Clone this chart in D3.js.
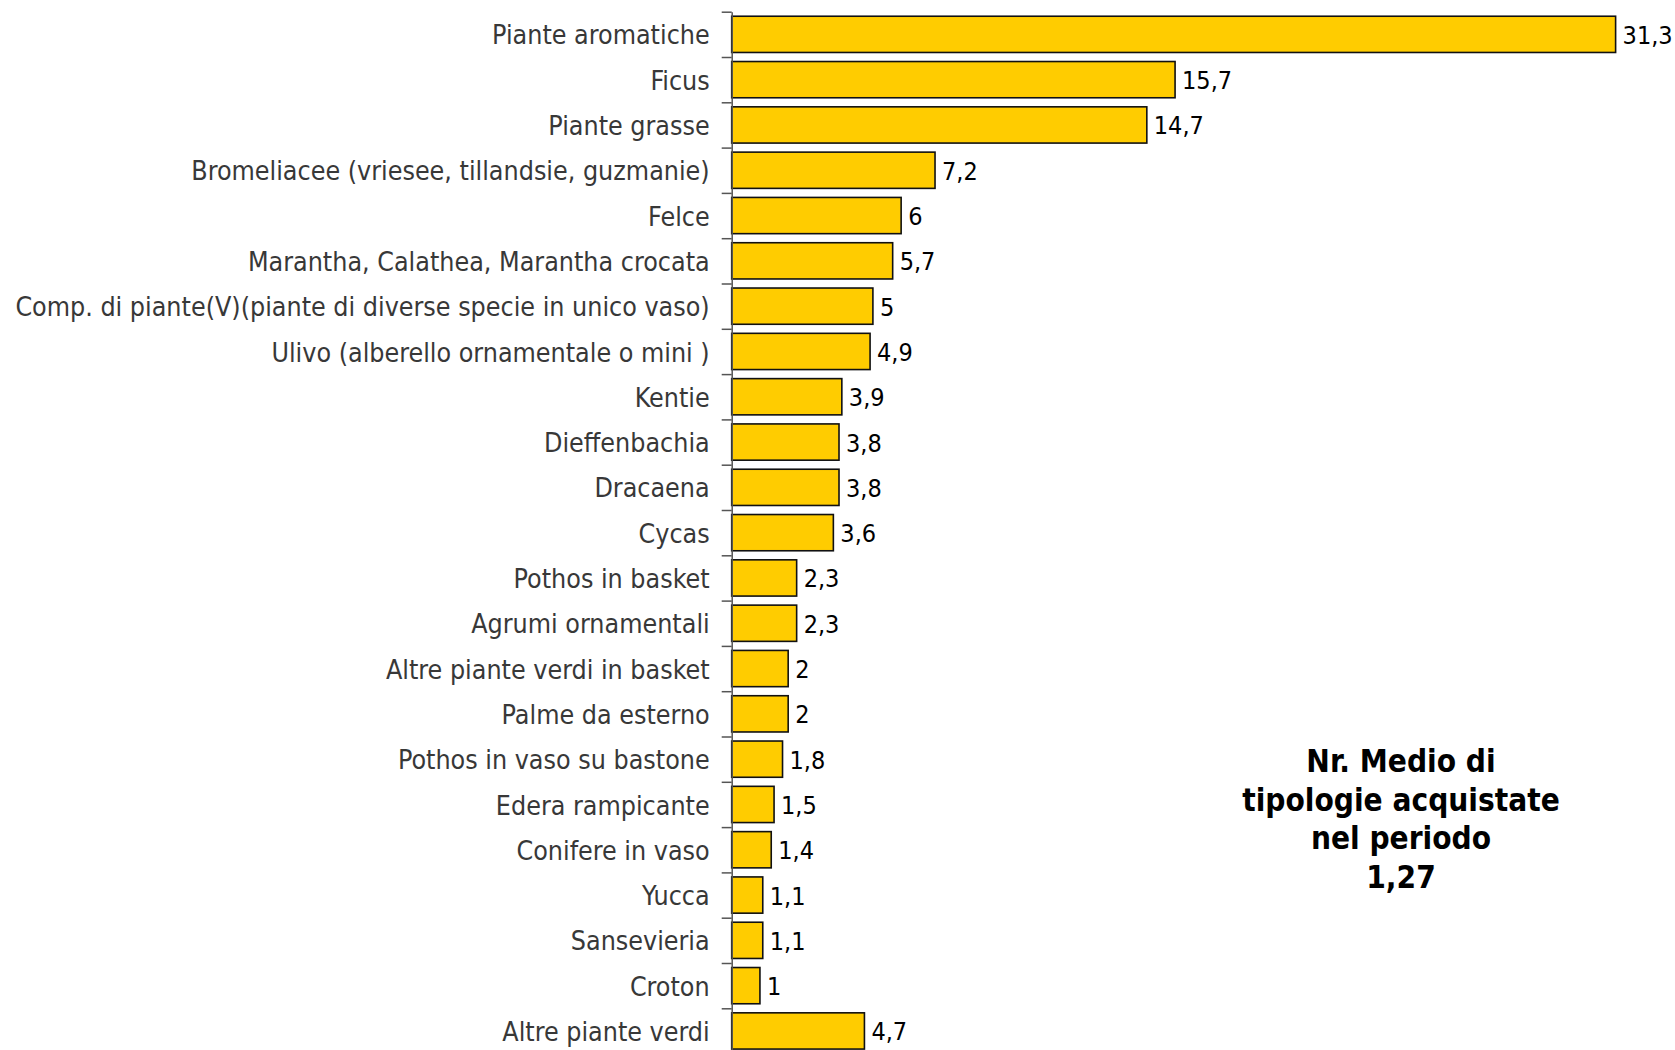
<!DOCTYPE html>
<html>
<head>
<meta charset="utf-8">
<script src="https://cdn.jsdelivr.net/npm/d3@7/dist/d3.min.js"></script>
<style>
  html, body { margin: 0; padding: 0; background: #fff; }
  svg { display: block; }
</style>
</head>
<body>
<svg id="chart" width="1675" height="1050"></svg>
<script>
const categories = [
  "Piante aromatiche",
  "Ficus",
  "Piante grasse",
  "Bromeliacee (vriesee, tillandsie, guzmanie)",
  "Felce",
  "Marantha, Calathea, Marantha crocata",
  "Comp. di piante(V)(piante di diverse specie in unico vaso)",
  "Ulivo (alberello ornamentale o mini )",
  "Kentie",
  "Dieffenbachia",
  "Dracaena",
  "Cycas",
  "Pothos in basket",
  "Agrumi ornamentali",
  "Altre piante verdi in basket",
  "Palme da esterno",
  "Pothos in vaso su bastone",
  "Edera rampicante",
  "Conifere in vaso",
  "Yucca",
  "Sansevieria",
  "Croton",
  "Altre piante verdi"
];
const values = [31.3, 15.7, 14.7, 7.2, 6, 5.7, 5, 4.9, 3.9, 3.8, 3.8, 3.6, 2.3, 2.3, 2, 2, 1.8, 1.5, 1.4, 1.1, 1.1, 1, 4.7];
const valueLabels = ["31,3","15,7","14,7","7,2","6","5,7","5","4,9","3,9","3,8","3,8","3,6","2,3","2,3","2","2","1,8","1,5","1,4","1,1","1,1","1","4,7"];
const noteLines = ["Nr. Medio di", "tipologie acquistate", "nel periodo", "1,27"];

const data = categories.map((c, i) => ({ cat: c, value: values[i], label: valueLabels[i] }));

const svg = d3.select("#chart");
const axisX = 731.7;
const plotTop = 11.7, plotBottom = 1053.6;

const y = d3.scaleBand().domain(categories).range([plotTop, plotBottom]).paddingInner(0.2).paddingOuter(0.1);
const yIdx = d3.scaleLinear().domain([0, categories.length]).range([plotTop, plotBottom]);
const x = d3.scaleLinear().domain([0, 35]).range([axisX, axisX + 35 * 28.24]);

const font = "'DejaVu Sans Condensed', 'DejaVu Sans', sans-serif";

// bars
svg.append("g").selectAll("rect").data(data).join("rect")
  .attr("x", x(0))
  .attr("y", d => y(d.cat))
  .attr("width", d => x(d.value) - x(0))
  .attr("height", y.bandwidth())
  .attr("fill", "#FFCC00")
  .attr("stroke", "#111")
  .attr("stroke-width", 1.6);

// axis with boundary ticks
const axisG = svg.append("g").attr("transform", `translate(${axisX},0)`)
  .call(d3.axisLeft(yIdx).tickValues(d3.range(0, categories.length + 1)).tickSize(10).tickSizeOuter(0).tickFormat(""));
axisG.select(".domain").attr("stroke", "#555").attr("stroke-width", 1.5);
axisG.selectAll(".tick line").attr("stroke", "#555").attr("stroke-width", 1.5);

// category labels
svg.append("g").selectAll("text").data(data).join("text")
  .attr("x", axisX - 22)
  .attr("y", d => y(d.cat) + y.bandwidth() / 2)
  .attr("dy", "0.38em")
  .attr("text-anchor", "end")
  .attr("font-family", font)
  .attr("font-size", 26.6)
  .attr("fill", "#383838")
  .text(d => d.cat);

// value labels
svg.append("g").selectAll("text").data(data).join("text")
  .attr("x", d => x(d.value) + 7)
  .attr("y", d => y(d.cat) + y.bandwidth() / 2)
  .attr("dy", "0.38em")
  .attr("font-family", font)
  .attr("font-size", 25)
  .attr("fill", "#000")
  .text(d => d.label);

// note
svg.append("g").selectAll("text").data(noteLines).join("text")
  .attr("x", 1401)
  .attr("y", (d, i) => 772 + i * 38.5)
  .attr("text-anchor", "middle")
  .attr("font-family", font)
  .attr("font-weight", "bold")
  .attr("font-size", 31.3)
  .attr("fill", "#000")
  .text(d => d);
</script>
</body>
</html>
